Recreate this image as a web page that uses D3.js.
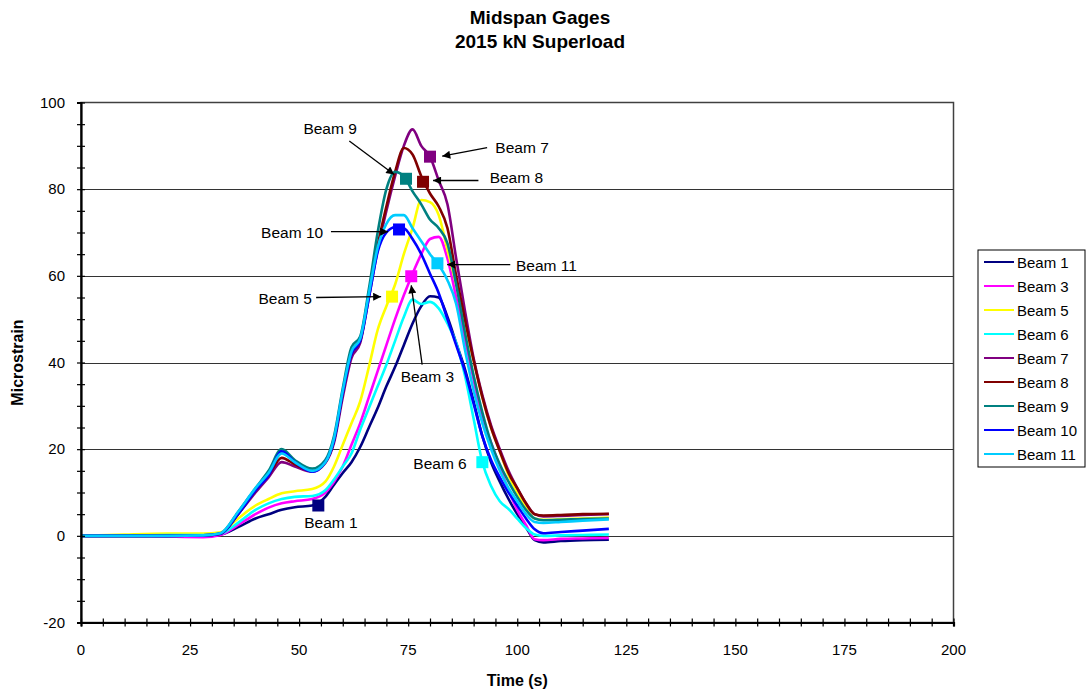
<!DOCTYPE html>
<html lang="en">

<head>
    <meta charset="UTF-8">
    <title>Midspan Gages</title>
    <script src="https://d3js.org/d3.v7.min.js"></script>
    <style>
        body {
            margin: 0;
            background: #fff;
        }

        text {
            font-family: "Liberation Sans", Arial, sans-serif;
            fill: #000;
        }
    </style>
</head>

<body>
    <div id="chart"></div>
    <script>
        // data (time in s, microstrain)
        var times = [0, 10, 20, 28, 32, 36, 40, 43, 46, 49, 53, 56, 58, 60, 62, 64, 66, 68, 70, 72,
            74, 76, 78, 80, 82, 84, 86, 88, 90, 92, 94, 96, 98, 100, 102, 104, 106, 110, 115, 121];

        var beam1 = [0, 0, 0, 0, 0.3, 2, 4, 5, 6, 6.6, 7, 9, 11.8, 14.5, 17, 20.5, 25, 29.5, 34.5, 39,
            44, 49, 53, 55.3, 55, 50.5, 44.5, 38.5, 31, 23, 17, 12.5, 8.5, 5, 2, -1, -1.5, -1.2, -1, -0.9];
        var beam3 = [0, 0, -0.2, -0.3, 0.2, 2.5, 5, 6.5, 7.5, 8, 8.5, 10, 12.5, 16, 21, 26, 32, 38, 44, 50,
            55.5, 60.5, 65, 68.5, 69, 64, 55, 45.5, 36, 27, 21.5, 16, 10.5, 6, 2.5, -0.8, -1, -0.7, -0.6, -0.5];
        var beam5 = [0, 0.3, 0.5, 0.5, 0.8, 4, 7, 8.5, 9.8, 10.3, 10.8, 12.5, 16, 21, 26, 31, 39, 47.5, 53, 58,
            65, 71, 77.5, 77, 74, 66, 58, 49, 40.5, 32, 25, 19.5, 14, 10, 6.5, 4, 3.7, 3.8, 4, 4.2];
        var beam6 = [0, 0.1, 0.2, 0.2, 0.5, 3, 6, 7.5, 8.5, 9, 9.2, 10.5, 13, 16, 19, 24.5, 29.5, 34.5, 39.5, 45,
            50.5, 54.5, 53.5, 54, 52.5, 49, 44.5, 37, 27, 17, 11.5, 8, 6.2, 4, 1.8, 0.3, 0, 0.1, 0.2, 0.3];
        var beam7 = [0, 0, 0, 0.1, 0.5, 5, 10, 13.5, 17, 16, 14.8, 16.8, 21.5, 32, 41, 44.5, 55, 66, 75, 83,
            90, 93.8, 90, 87.5, 82, 76.5, 64, 52, 41, 32.5, 25.5, 20, 15, 11, 7.5, 5, 4.5, 4.6, 4.8, 5];
        var beam8 = [0, 0, 0, 0.1, 0.5, 5, 10.5, 14, 18, 16.5, 15, 17, 22, 33, 42, 45, 56, 67, 76, 84,
            89.5, 88, 83, 79, 76, 71, 60, 50, 40.5, 32, 25, 19.5, 14.5, 11, 7.5, 5, 4.7, 4.8, 5, 5.1];
        var beam9 = [0, 0, 0, 0.1, 0.6, 5.5, 11, 15, 20, 17.5, 15.5, 17.5, 23, 34, 43.5, 46, 57, 70, 80, 84,
            83, 79.5, 76.5, 73, 71, 67.5, 58, 47, 37, 28.5, 21.5, 16.5, 12.5, 9, 6, 4, 3.6, 3.7, 3.9, 4];
        var beam10 = [0, 0, 0, 0.1, 0.5, 5, 10.5, 14, 19.5, 17, 14.8, 17, 22, 33, 42, 45, 55, 65.5, 70, 71.2,
            71, 68.5, 65, 60.5, 56, 50, 44, 38, 30.5, 23, 17.5, 13.5, 10, 7, 4, 1.5, 0.6, 0.9, 1.2, 1.6];
        var beam11 = [0, 0, 0, 0.1, 0.6, 5.5, 11, 14.5, 19, 17, 15, 17, 22.5, 33.5, 42.5, 45.5, 56, 66.5, 72, 74,
            74, 71, 68, 65, 62.5, 59, 53.5, 43, 33.5, 26, 20, 15, 11, 8, 5, 3.2, 3, 3.2, 3.5, 3.8];

        var seriesNames = ["Beam 1", "Beam 3", "Beam 5", "Beam 6", "Beam 7", "Beam 8", "Beam 9", "Beam 10", "Beam 11"];
        var seriesValues = [beam1, beam3, beam5, beam6, beam7, beam8, beam9, beam10, beam11];
        var seriesColors = ["#000080", "#ff00ff", "#ffff00", "#00ffff", "#800080", "#800000", "#008080", "#0000ff", "#00ccff"];

        // square markers on each curve
        var markerT = [54.4, 75.7, 71.3, 92.0, 80.0, 78.4, 74.5, 72.9, 81.7];
        var markerV = [7.0, 59.9, 55.2, 17.0, 87.5, 81.7, 82.4, 70.7, 62.9];

        // label text position and arrow (from -> to), in data units
        var labelT = [57.3, 79.4, 46.8, 82.3, 101.1, 99.8, 57.1, 48.4, 106.7];
        var labelV = [3.1, 36.8, 55.0, 16.7, 89.8, 82.9, 94.2, 70.2, 62.4];
        var arrows = [null, [78.2, 39.5, 75.7, 57.8], [53.9, 55.0, 68.8, 55.2], null,
            [93.1, 89.6, 82.8, 87.6], [91.1, 82.0, 80.7, 82.0], [61.5, 91.1, 71.8, 83.4],
            [57.3, 70.2, 70.4, 70.2], [98.4, 62.6, 83.9, 62.6]];

        var xTicks = [0, 25, 50, 75, 100, 125, 150, 175, 200];
        var yTicks = [-20, 0, 20, 40, 60, 80, 100];

        var W = 1091, H = 696;
        var plotL = 81, plotR = 953.5, plotT = 102.5, plotB = 622.5;

        var svg = d3.select("#chart")
            .append("svg")
            .attr("width", W)
            .attr("height", H);

        var x = d3.scaleLinear().domain([0, 200]).range([plotL, plotR]);
        var y = d3.scaleLinear().domain([-20, 100]).range([plotB, plotT]);

        // arrow head
        svg.append("defs").append("marker")
            .attr("id", "head")
            .attr("viewBox", "0 0 10 10")
            .attr("refX", 10).attr("refY", 5)
            .attr("markerWidth", 11).attr("markerHeight", 8)
            .attr("markerUnits", "userSpaceOnUse")
            .attr("orient", "auto")
            .append("path")
            .attr("d", "M0,0L10,5L0,10z")
            .attr("fill", "#000");

        // plot area frame
        svg.append("rect")
            .attr("x", plotL).attr("y", plotT)
            .attr("width", plotR - plotL).attr("height", plotB - plotT)
            .attr("fill", "#fff")
            .attr("stroke", "#404040")
            .attr("stroke-width", 1.5);

        // gridlines
        svg.append("g")
            .selectAll("line")
            .data([0, 20, 40, 60, 80])
            .enter().append("line")
            .attr("x1", plotL).attr("x2", plotR)
            .attr("y1", function (d) { return Math.round(y(d)) + 0.5; })
            .attr("y2", function (d) { return Math.round(y(d)) + 0.5; })
            .attr("stroke", "#333")
            .attr("stroke-width", 1);

        // lines
        var line = d3.line()
            .x(function (d, i) { return x(times[i]); })
            .y(function (d) { return y(d); })
            .curve(d3.curveMonotoneX);

        svg.append("g")
            .selectAll("path")
            .data(seriesValues)
            .enter().append("path")
            .attr("d", line)
            .attr("fill", "none")
            .attr("stroke", function (d, i) { return seriesColors[i]; })
            .attr("stroke-width", 2.6)
            .attr("stroke-linejoin", "round");

        // markers
        svg.append("g")
            .selectAll("rect")
            .data(markerT)
            .enter().append("rect")
            .attr("x", function (d) { return x(d) - 6; })
            .attr("y", function (d, i) { return y(markerV[i]) - 6; })
            .attr("width", 12).attr("height", 12)
            .attr("fill", function (d, i) { return seriesColors[i]; });

        // axes, ticks cross the axis line
        var xAxis = svg.append("g")
            .attr("transform", "translate(0," + plotB + ")")
            .call(d3.axisBottom(x).tickValues(d3.range(0, 201, 5)).tickSize(4).tickFormat(""));
        xAxis.selectAll(".tick line").attr("y1", -4).attr("stroke", "#000").attr("stroke-width", 1.2);
        xAxis.select(".domain").attr("stroke", "#000").attr("stroke-width", 2.2);

        var yAxis = svg.append("g")
            .attr("transform", "translate(" + plotL + ",0)")
            .call(d3.axisLeft(y).tickValues(d3.range(-20, 101, 5)).tickSize(4).tickFormat(""));
        yAxis.selectAll(".tick line").attr("x1", 4).attr("stroke", "#000").attr("stroke-width", 1.2);
        yAxis.select(".domain").attr("stroke", "#000").attr("stroke-width", 2.2);

        svg.append("g")
            .selectAll("text")
            .data(xTicks)
            .enter().append("text")
            .attr("x", function (d) { return x(d); })
            .attr("y", plotB + 32)
            .attr("text-anchor", "middle")
            .style("font-size", "15px")
            .text(function (d) { return d; });

        svg.append("g")
            .selectAll("text")
            .data(yTicks)
            .enter().append("text")
            .attr("x", plotL - 16)
            .attr("y", function (d) { return y(d) + 5; })
            .attr("text-anchor", "end")
            .style("font-size", "15px")
            .text(function (d) { return d; });

        // annotations
        var notes = svg.append("g");
        seriesNames.forEach(function (name, i) {
            notes.append("text")
                .attr("x", x(labelT[i]))
                .attr("y", y(labelV[i]) + 6)
                .attr("text-anchor", "middle")
                .style("font-size", "15.5px")
                .text(name);
            var a = arrows[i];
            if (a) {
                notes.append("line")
                    .attr("x1", x(a[0])).attr("y1", y(a[1]))
                    .attr("x2", x(a[2])).attr("y2", y(a[3]))
                    .attr("stroke", "#000")
                    .attr("stroke-width", 1.3)
                    .attr("marker-end", "url(#head)");
            }
        });

        // titles
        svg.append("text")
            .attr("x", 540).attr("y", 24)
            .attr("text-anchor", "middle")
            .style("font-size", "19px").style("font-weight", "bold")
            .text("Midspan Gages");
        svg.append("text")
            .attr("x", 540).attr("y", 48)
            .attr("text-anchor", "middle")
            .style("font-size", "19px").style("font-weight", "bold")
            .text("2015 kN Superload");
        svg.append("text")
            .attr("x", (plotL + plotR) / 2).attr("y", 686)
            .attr("text-anchor", "middle")
            .style("font-size", "16px").style("font-weight", "bold")
            .text("Time (s)");
        svg.append("text")
            .attr("transform", "translate(23," + (plotT + plotB) / 2 + ")rotate(-90)")
            .attr("text-anchor", "middle")
            .style("font-size", "16px").style("font-weight", "bold")
            .text("Microstrain");

        // legend
        var lg = svg.append("g").attr("transform", "translate(978,250)");
        lg.append("rect")
            .attr("width", 107).attr("height", 217)
            .attr("fill", "#fff").attr("stroke", "#000").attr("stroke-width", 1);
        var items = lg.selectAll("g")
            .data(seriesNames)
            .enter().append("g")
            .attr("transform", function (d, i) { return "translate(0," + (12 + i * 24) + ")"; });
        items.append("line")
            .attr("x1", 6).attr("x2", 36)
            .attr("stroke", function (d, i) { return seriesColors[i]; })
            .attr("stroke-width", 2);
        items.append("text")
            .attr("x", 39).attr("y", 5.5)
            .style("font-size", "15px")
            .text(function (d) { return d; });
    </script>
</body>

</html>
